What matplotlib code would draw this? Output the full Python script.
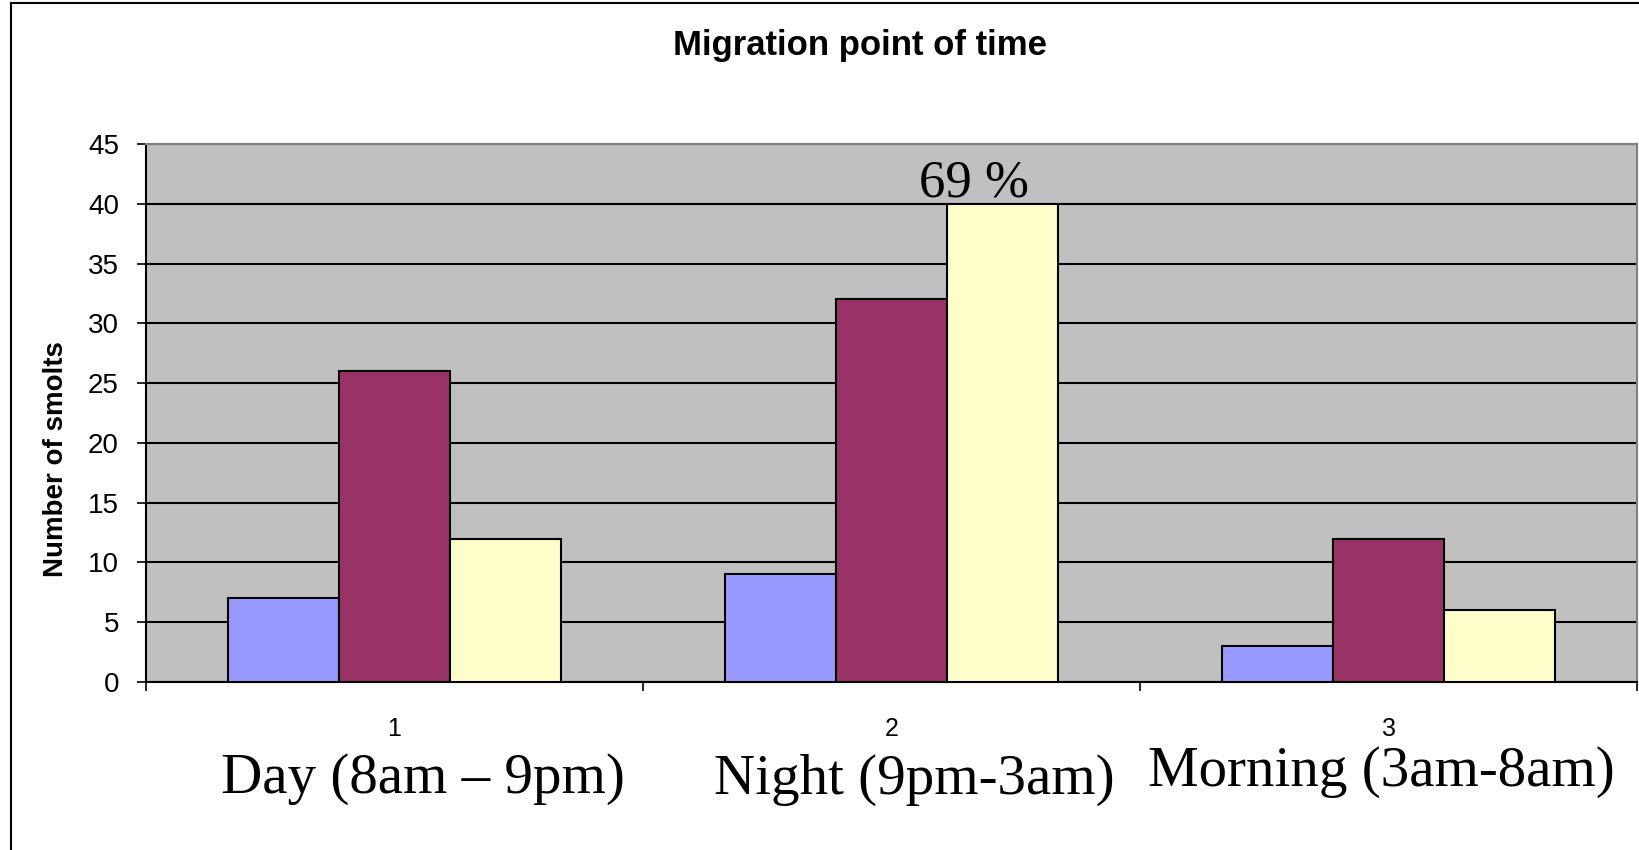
import matplotlib
matplotlib.use("Agg")
import matplotlib.pyplot as plt
from matplotlib.lines import Line2D
import numpy as np

plt.rcParams["font.family"] = ["Liberation Sans", "DejaVu Sans"]

# ─── Data ─────────────────────────────────────────────────────────────────────
groups      = ["1", "2", "3"]
periods     = ["Day (8am – 9pm)", "Night (9pm-3am)", "Morning (3am-8am)"]
series_a    = [7, 9, 3]      # blue
series_b    = [26, 32, 12]   # maroon
series_c    = [12, 40, 6]    # pale yellow
peak_label  = "69 %"
yticks      = list(range(0, 50, 5))

colors = ["#9999FF", "#993366", "#FFFFCC"]

# ─── Figure ───────────────────────────────────────────────────────────────────
fig = plt.figure(figsize=(16.39, 8.5), dpi=100)
ax = fig.add_axes([0.0891, 0.1976, 0.9097, 0.633])
ax.set_facecolor("#C0C0C0")

x = np.arange(len(groups))
w = 0.223
for i, (vals, c) in enumerate(zip([series_a, series_b, series_c], colors)):
    ax.bar(x + (i - 1) * w, vals, width=w, color=c, edgecolor="black",
           linewidth=1.5, zorder=3)

ax.set_xlim(-0.5, len(groups) - 0.5)
ax.set_ylim(0, 45)
ax.set_yticks(yticks)
ax.yaxis.grid(True, color="black", lw=1.5, zorder=1)
ax.set_axisbelow(True)
ax.tick_params(axis="y", labelsize=20, length=6.5, width=1.2, direction="out",
               pad=13)

# category ticks at boundaries, labels at centres
ax.set_xticks(x)
ax.set_xticklabels(groups, fontsize=18)
ax.tick_params(axis="x", which="major", length=0, pad=25)
ax.set_xticks(np.arange(len(groups) + 1) - 0.5, minor=True)
ax.tick_params(axis="x", which="minor", length=6.5, width=1.2, direction="out")

for s in ["left", "bottom"]:
    ax.spines[s].set_color("black"); ax.spines[s].set_linewidth(1.5)
for s in ["top", "right"]:
    ax.spines[s].set_color("#808080"); ax.spines[s].set_linewidth(1.5)

ax.set_ylabel("Number of smolts", fontsize=20, fontweight="bold", labelpad=14,
              y=0.415)
fig.text(0.525, 0.947, "Migration point of time", ha="center", va="center",
         fontsize=25, fontweight="bold")

# annotation above the tallest bar
ax.text(x[1] + 0.74 * w, series_c[1] - 0.3, peak_label, ha="center", va="bottom",
        fontsize=38, family="Liberation Serif")

# period captions below the axis
for xp, yp, lbl in zip([0.258, 0.558, 0.843], [0.083, 0.083, 0.092], periods):
    fig.text(xp, yp, lbl, ha="center", va="center", fontsize=41,
             family="Liberation Serif")

# figure frame (left and top only, as cropped)
fig.add_artist(Line2D([0.0065, 0.0065], [0.0, 0.996], color="black", lw=1.5))
fig.add_artist(Line2D([0.0065, 1.0], [0.996, 0.996], color="black", lw=1.5))

plt.savefig("out.png", dpi=100)
plt.close()
